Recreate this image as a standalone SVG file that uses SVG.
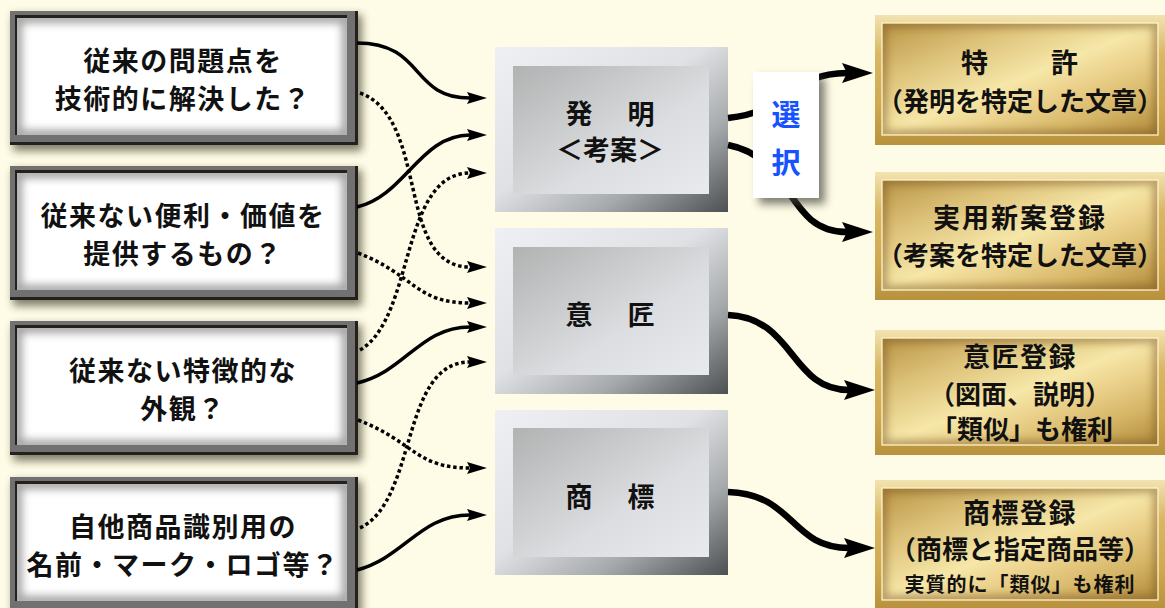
<svg xmlns="http://www.w3.org/2000/svg" width="1165" height="608" viewBox="0 0 1165 608">
<defs>
<style>
text { font-family: "Noto Sans CJK JP", "Noto Sans CJK SC", sans-serif; font-weight: bold; fill: #111; text-anchor: middle; dominant-baseline: central; }
.lt { font-size: 27px; letter-spacing: 1.5px; }
.mt { font-size: 27px; }
.rt { font-size: 26px; }
.rs { font-size: 20px; letter-spacing: 1px; }
.sel { font-size: 29px; fill: #1652ff; }
.thin { fill: none; stroke: #000; stroke-width: 3.5; marker-end: url(#ah); }
.dot { fill: none; stroke: #000; stroke-width: 3.5; stroke-dasharray: 3.5 2.8; marker-end: url(#ah); }
.thick { fill: none; stroke: #000; stroke-width: 6.5; marker-end: url(#ahb); }
.mo { fill: url(#mOut); }
.mi { fill: url(#mIn); }
.go { fill: url(#gOut); }
.gi { fill: url(#gIn); }
.gl { fill: none; stroke: #fff3c6; stroke-width: 1.3; }
.gv { fill: none; stroke: #7a5520; stroke-width: 9; opacity: 0.55; filter: url(#b4); }
</style>
<filter id="b4" x="-20%" y="-20%" width="140%" height="140%"><feGaussianBlur stdDeviation="4"/></filter>
<linearGradient id="mOut" x1="0" y1="0" x2="1" y2="1">
<stop offset="0" stop-color="#eef0f4"/><stop offset="0.45" stop-color="#dfe1e5"/><stop offset="0.72" stop-color="#a7aaad"/><stop offset="1" stop-color="#4c5052"/>
</linearGradient>
<linearGradient id="mIn" x1="0" y1="0" x2="1" y2="1">
<stop offset="0" stop-color="#b0b3b2"/><stop offset="0.6" stop-color="#dcdde0"/><stop offset="1" stop-color="#e9eaee"/>
</linearGradient>
<linearGradient id="gOut" x1="0" y1="0" x2="0" y2="1">
<stop offset="0" stop-color="#f2e3b0"/><stop offset="0.3" stop-color="#d9b764"/><stop offset="0.7" stop-color="#cfa94f"/><stop offset="1" stop-color="#b8913d"/>
</linearGradient>
<linearGradient id="gIn" x1="0" y1="0" x2="1" y2="1">
<stop offset="0" stop-color="#b99546"/><stop offset="0.25" stop-color="#dcc178"/><stop offset="0.5" stop-color="#f6e7a8"/><stop offset="0.62" stop-color="#ecd38e"/><stop offset="0.8" stop-color="#d6b667"/><stop offset="1" stop-color="#b08a3c"/>
</linearGradient>
<marker id="ah" markerUnits="userSpaceOnUse" markerWidth="20" markerHeight="12" refX="3" refY="6" orient="auto" viewBox="0 0 20 12">
<path d="M0,0 L20,6 L0,12 L3,6 z" fill="#000"/>
</marker>
<marker id="ahb" markerUnits="userSpaceOnUse" markerWidth="31" markerHeight="20" refX="5" refY="10" orient="auto" viewBox="0 0 31 20">
<path d="M0,0 L31,10 L0,20 L5,10 z" fill="#000"/>
</marker>
<clipPath id="lfc"><rect x="17" y="7" width="330" height="117"/></clipPath>
<clipPath id="gc1"><rect x="882" y="23" width="276" height="112"/></clipPath>
<clipPath id="gc2"><rect x="882" y="180" width="276" height="110"/></clipPath>
<clipPath id="gc3"><rect x="882" y="338" width="276" height="107"/></clipPath>
<clipPath id="gc4"><rect x="882" y="488" width="276" height="112"/></clipPath>
<g id="lf">
<rect x="13" y="4" width="349" height="136" fill="#2d2a18" opacity="0.6" filter="url(#b4)"/>
<rect x="10" y="0" width="348" height="134" fill="#25201c"/>
<rect x="10" y="0" width="345" height="131" fill="#717171"/>
<rect x="15" y="4" width="332" height="120" fill="#25201c"/>
<rect x="17" y="7" width="330" height="117" fill="#fff"/>
<g clip-path="url(#lfc)"><rect x="17" y="7" width="330" height="117" fill="none" stroke="#a0a0a0" stroke-width="10" filter="url(#b4)"/></g>
</g>
</defs>
<rect width="1165" height="608" fill="#fefce6"/>

<g id="q1" transform="translate(0,11)">
<use href="#lf"/>
<text class="lt" x="183" y="48.5">従来の問題点を</text>
<text class="lt" x="183" y="86.5">技術的に解決した？</text>
</g>
<g id="q2" transform="translate(0,166)">
<use href="#lf"/>
<text class="lt" x="183" y="48.5">従来ない便利・価値を</text>
<text class="lt" x="183" y="86.5">提供するもの？</text>
</g>
<g id="q3" transform="translate(0,321)">
<use href="#lf"/>
<text class="lt" x="183" y="48.5">従来ない特徴的な</text>
<text class="lt" x="183" y="86.5">外観？</text>
</g>
<g id="q4" transform="translate(0,477)">
<use href="#lf"/>
<text class="lt" x="183" y="48.5">自他商品識別用の</text>
<text class="lt" x="183" y="86.5">名前・マーク・ロゴ等？</text>
</g>

<g id="hatsumei">
<rect class="mo" x="495" y="47" width="233" height="165"/>
<rect class="mi" x="513" y="66" width="196" height="128"/>
<text class="mt" x="612" y="112" style="letter-spacing:4px">発　明</text>
<text class="mt" x="610" y="148">＜考案＞</text>
</g>
<g id="isho">
<rect class="mo" x="495" y="228" width="233" height="166"/>
<rect class="mi" x="513" y="247" width="196" height="128"/>
<text class="mt" x="612" y="313" style="letter-spacing:4px">意　匠</text>
</g>
<g id="shohyo">
<rect class="mo" x="495" y="410" width="233" height="165"/>
<rect class="mi" x="513" y="428" width="196" height="129"/>
<text class="mt" x="612" y="495" style="letter-spacing:4px">商　標</text>
</g>

<g id="connectors">
<path class="thin" d="M357,43 C425,43 410,98 470,98"/>
<path class="thin" d="M357,207 C405,196 420,135 470,135"/>
<path class="thin" d="M357,383 C405,372 420,327 470,327"/>
<path class="thin" d="M357,570 C405,557 420,515 470,515"/>
<path class="dot" d="M360,93 C430,118 395,267 470,267"/>
<path class="dot" d="M358,253 C415,275 415,303 470,303"/>
<path class="dot" d="M360,350 C415,318 400,173 470,173"/>
<path class="dot" d="M358,420 C415,442 415,468 470,468"/>
<path class="dot" d="M360,528 C418,500 400,362 470,362"/>
<path class="thick" d="M728,118 C790,112 790,73 847,73"/>
<path class="thick" d="M728,145 C795,158 785,232 847,232"/>
<path class="thick" d="M728,315 C795,318 790,390 849,390"/>
<path class="thick" d="M728,492 C795,494 790,548 849,548"/>
</g>

<g id="sentaku">
<rect x="759" y="78" width="66" height="126" fill="#4a4a40" opacity="0.7" filter="url(#b4)"/>
<rect x="753" y="72" width="66" height="126" fill="#fff"/>
<text class="sel" x="786" y="113">選</text>
<text class="sel" x="786" y="161">択</text>
</g>

<g id="tokkyo">
<rect class="go" x="875" y="15" width="292" height="130"/>
<rect class="gi" x="882" y="23" width="276" height="112"/>
<g clip-path="url(#gc1)"><rect class="gv" x="882" y="23" width="276" height="112"/></g>
<rect class="gl" x="882" y="23" width="276" height="112"/>
<text class="rt" x="1021" y="61" style="font-size:27px;letter-spacing:3px">特　　許</text>
<text class="rt" x="1020" y="99">（発明を特定した文章）</text>
</g>
<g id="jitsuyo">
<rect class="go" x="875" y="172" width="292" height="128"/>
<rect class="gi" x="882" y="180" width="276" height="110"/>
<g clip-path="url(#gc2)"><rect class="gv" x="882" y="180" width="276" height="110"/></g>
<rect class="gl" x="882" y="180" width="276" height="110"/>
<text class="rt" x="1020" y="216" style="font-size:27px;letter-spacing:2px">実用新案登録</text>
<text class="rt" x="1020" y="253">（考案を特定した文章）</text>
</g>
<g id="ishotoroku">
<rect class="go" x="875" y="330" width="292" height="125"/>
<rect class="gi" x="882" y="338" width="276" height="107"/>
<g clip-path="url(#gc3)"><rect class="gv" x="882" y="338" width="276" height="107"/></g>
<rect class="gl" x="882" y="338" width="276" height="107"/>
<text class="rt" x="1020" y="355" style="font-size:27px;letter-spacing:1.5px">意匠登録</text>
<text class="rt" x="1020" y="392">（図面、説明）</text>
<text class="rt" x="1022" y="427">「類似」も権利</text>
</g>
<g id="shohyotoroku">
<rect class="go" x="875" y="480" width="292" height="128"/>
<rect class="gi" x="882" y="488" width="276" height="112"/>
<g clip-path="url(#gc4)"><rect class="gv" x="882" y="488" width="276" height="112"/></g>
<rect class="gl" x="882" y="488" width="276" height="112"/>
<text class="rt" x="1020" y="511" style="font-size:27px;letter-spacing:1.5px">商標登録</text>
<text class="rt" x="1020" y="547">（商標と指定商品等）</text>
<text class="rs" x="1020" y="583">実質的に「類似」も権利</text>
</g>
</svg>
